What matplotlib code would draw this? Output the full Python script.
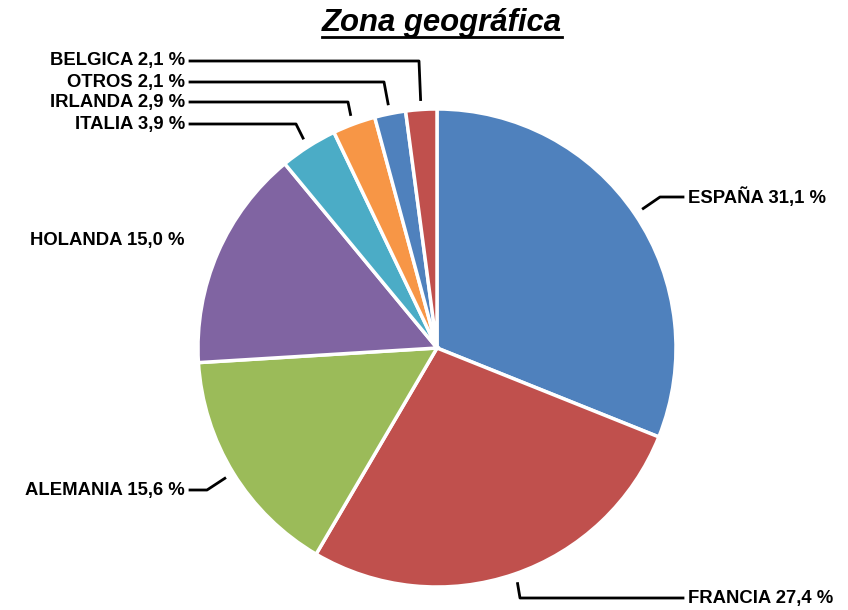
import numpy as np
import matplotlib
matplotlib.use('Agg')
from matplotlib import pyplot as plt
from matplotlib.lines import Line2D

# data
zonas = ['ESPAÑA', 'FRANCIA', 'ALEMANIA', 'HOLANDA', 'ITALIA', 'IRLANDA', 'OTROS', 'BELGICA']
porcentaje = [31.1, 27.4, 15.6, 15.0, 3.9, 2.9, 2.1, 2.1]
colores = ['#4F81BD', '#C0504D', '#9BBB59', '#8064A2', '#4BACC6', '#F79646', '#4F81BD', '#C0504D']

# label layout (pixel coords, y measured from the top): elbow x, label y, side
elbow_x = [660, 520, 207, None, 296, 348, 384, 419]
label_y = [197, 598, 490, 240, 124, 102, 82, 61]
lado = ['r', 'r', 'l', 'l', 'l', 'l', 'l', 'l']

W, H = 848, 610
FS = 13.3


def main():
    plt.rcParams['font.family'] = ['Liberation Sans', 'DejaVu Sans']
    fig = plt.figure(figsize=(W / 100, H / 100), dpi=100)
    ax = fig.add_axes([0, 0, 1, 1])

    cx, cy, r = 437, H - 348, 239
    wedges, _ = ax.pie(porcentaje, colors=colores, startangle=90, counterclock=False,
                       center=(cx, cy), radius=r, frame=True,
                       wedgeprops=dict(edgecolor='white', linewidth=2.5))
    ax.set_xlim(0, W)
    ax.set_ylim(0, H)
    ax.set_aspect('equal')
    ax.axis('off')

    for i, w in enumerate(wedges):
        txt = '%s %s %%' % (zonas[i], ('%.1f' % porcentaje[i]).replace('.', ','))
        ly = H - label_y[i]
        if elbow_x[i] is None:
            ax.text(185, ly, txt, ha='right', va='center', fontsize=FS, fontweight='bold')
            continue
        ang = np.deg2rad((w.theta1 + w.theta2) / 2)
        x0 = cx + (r + 10) * np.cos(ang)
        y0 = cy + (r + 10) * np.sin(ang)
        if lado[i] == 'r':
            xe = 683
            ax.plot([x0, elbow_x[i], xe], [y0, ly, ly], color='black', lw=2)
            ax.text(xe + 5, ly, txt, ha='left', va='center', fontsize=FS, fontweight='bold')
        else:
            xe = 190
            ax.plot([x0, elbow_x[i], xe], [y0, ly, ly], color='black', lw=2)
            ax.text(xe - 5, ly, txt, ha='right', va='center', fontsize=FS, fontweight='bold')

    title = fig.text(442 / W, 1 - 23 / H, 'Zona geográfica', ha='center', va='center',
                     fontsize=22.4, fontweight='bold', fontstyle='italic')
    fig.canvas.draw()
    bb = title.get_window_extent()
    uy = (bb.y0 + 1) / H
    fig.add_artist(Line2D([bb.x0 / W, bb.x1 / W], [uy, uy], color='black', lw=2,
                          transform=fig.transFigure))

    fig.savefig('out.png', dpi=100)


if __name__ == "__main__":
    main()
